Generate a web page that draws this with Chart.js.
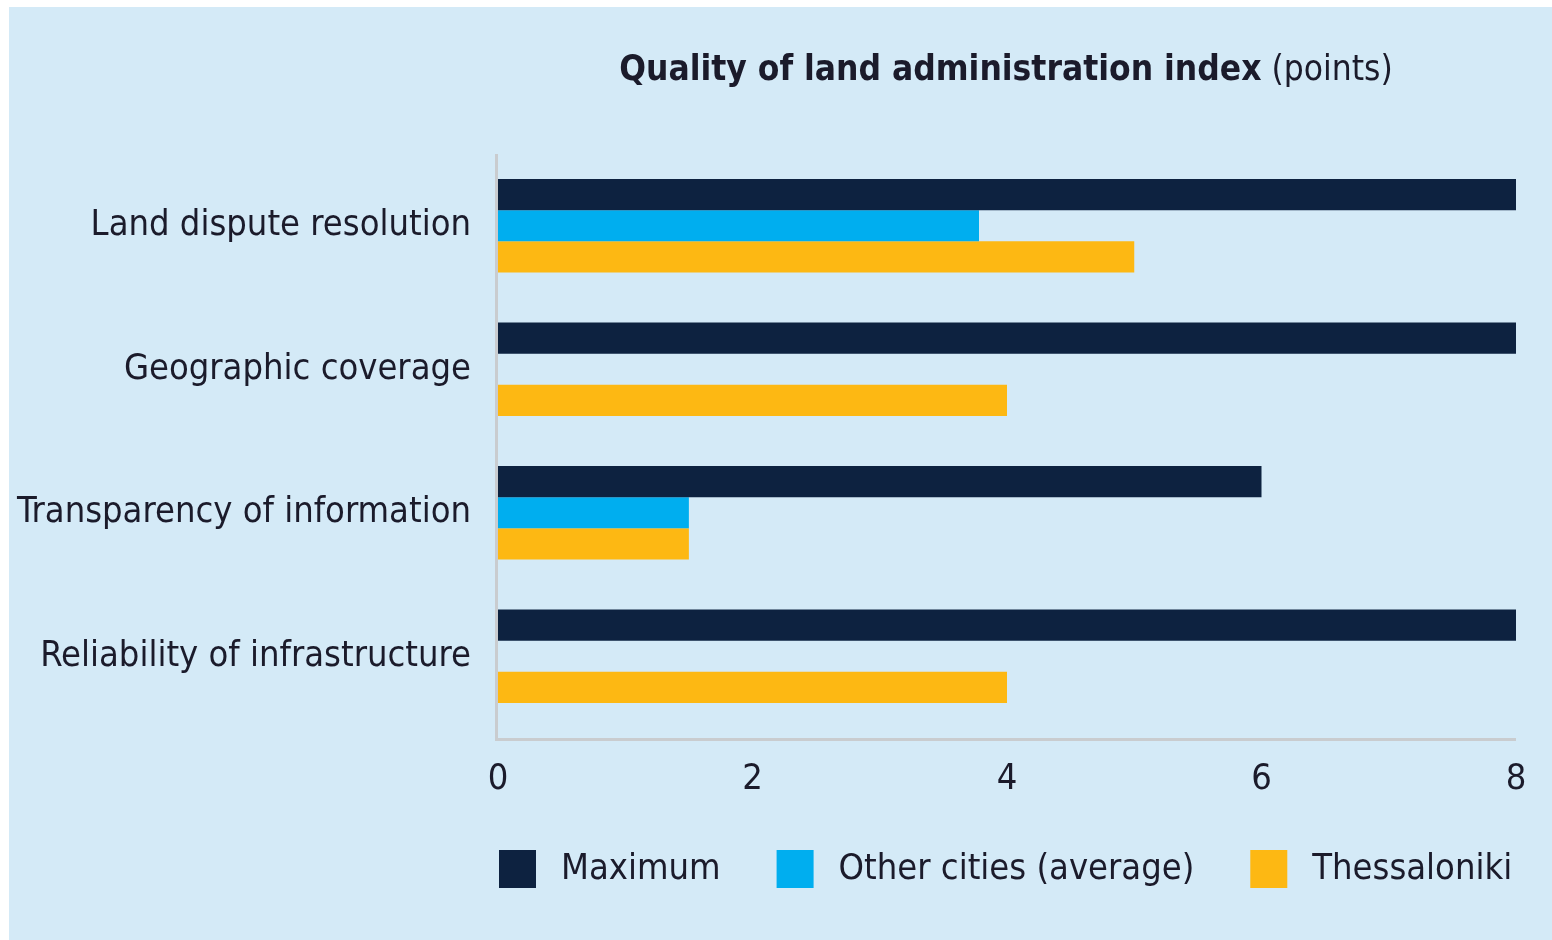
<!DOCTYPE html>
<html><head><meta charset="utf-8">
<script src="https://cdn.jsdelivr.net/npm/chart.js@4/dist/chart.umd.min.js"></script>
<style>
html,body{margin:0;padding:0;background:#fff;}
#panel{position:absolute;left:9px;top:7px;width:1543px;height:933px;background:#d4eaf7;}
canvas{display:block;}
</style></head><body>
<div id="panel"><canvas id="c" width="1543" height="933"></canvas></div>
<script>
const categories = ['Land dispute resolution','Geographic coverage','Transparency of information','Reliability of infrastructure'];
const seriesNames = ['Maximum','Other cities (average)','Thessaloniki'];
const maximum = [8, 8, 6, 8];
const otherCities = [3.78, null, 1.5, null];
const thessaloniki = [5, 4, 1.5, 4];
const xTicks = [0, 2, 4, 6, 8];
const titleBold = 'Quality of land administration index';
const titleNormal = ' (points)';

const colors = ['#0d2240', '#00aeef', '#fdb813'];
const FONT = '"DejaVu Sans Condensed", "DejaVu Sans", sans-serif';
const TEXT = '#1b1b2b';
const AXIS = '#c9cccf';
const FS = 36;

const titlePlugin = {
  id: 'titleMixed',
  afterDraw(chart) {
    const ctx = chart.ctx;
    ctx.save();
    ctx.fillStyle = TEXT;
    ctx.textBaseline = 'alphabetic';
    ctx.font = 'bold 35px ' + FONT;
    const w1 = ctx.measureText(titleBold).width;
    ctx.font = '35px ' + FONT;
    const w2 = ctx.measureText(titleNormal).width;
    const cx = 997;
    let x = cx - (w1 + w2) / 2;
    const y = 73;
    ctx.textAlign = 'left';
    ctx.font = 'bold 35px ' + FONT;
    ctx.fillText(titleBold, x, y);
    ctx.font = '35px ' + FONT;
    ctx.fillText(titleNormal, x + w1, y);
    ctx.restore();
  }
};

const axisPlugin = {
  id: 'axisLines',
  beforeDatasetsDraw(chart) {
    const {ctx, chartArea} = chart;
    ctx.save();
    ctx.strokeStyle = AXIS;
    ctx.lineWidth = 3;
    ctx.beginPath();
    ctx.moveTo(chartArea.left - 1.5, chartArea.top);
    ctx.lineTo(chartArea.left - 1.5, chartArea.bottom + 13);
    ctx.stroke();
    ctx.beginPath();
    ctx.moveTo(chartArea.left - 3, chartArea.bottom + 11.5);
    ctx.lineTo(chartArea.right, chartArea.bottom + 11.5);
    ctx.stroke();
    ctx.restore();
  }
};

const legendPlugin = {
  id: 'legendCustom',
  afterDraw(chart) {
    const ctx = chart.ctx;
    ctx.save();
    ctx.font = FS + 'px ' + FONT;
    ctx.textBaseline = 'middle';
    ctx.textAlign = 'left';
    let x = chart.chartArea.left + 1;
    const boxTop = 843, boxH = 38, boxW = 37;
    seriesNames.forEach((name, i) => {
      ctx.fillStyle = colors[i];
      ctx.fillRect(x, boxTop, boxW, boxH);
      ctx.fillStyle = TEXT;
      const tx = x + boxW + 25;
      ctx.fillText(name, tx, boxTop + boxH / 2 + 1);
      x = tx + ctx.measureText(name).width + 56;
    });
    ctx.restore();
  }
};

new Chart(document.getElementById('c'), {
  type: 'bar',
  data: {
    labels: categories,
    datasets: [
      {label: seriesNames[0], data: maximum, backgroundColor: colors[0]},
      {label: seriesNames[1], data: otherCities, backgroundColor: colors[1]},
      {label: seriesNames[2], data: thessaloniki, backgroundColor: colors[2]}
    ]
  },
  options: {
    indexAxis: 'y',
    responsive: false,
    animation: false,
    events: [],
    datasets: {bar: {categoryPercentage: 0.65, barPercentage: 1.0, borderWidth: 0}},
    layout: {padding: {top: 147, left: 0, right: 36, bottom: 112}},
    plugins: {legend: {display: false}, title: {display: false}, tooltip: {enabled: false}},
    scales: {
      x: {
        min: 0, max: 8,
        afterBuildTicks(scale) { scale.ticks = xTicks.map(v => ({value: v})); },
        grid: {display: false, drawTicks: false},
        border: {display: false},
        ticks: {color: TEXT, font: {family: FONT, size: FS}, padding: 30},
        afterFit(scale) { scale.height = 100; scale.paddingLeft = 0; scale.paddingRight = 0; }
      },
      y: {
        grid: {display: false, drawTicks: false},
        border: {display: false},
        ticks: {color: TEXT, font: {family: FONT, size: FS}, padding: 27},
        afterFit(scale) { scale.width = 489; scale.paddingTop = 0; scale.paddingBottom = 0; }
      }
    }
  },
  plugins: [titlePlugin, axisPlugin, legendPlugin]
});
</script>
</body></html>
